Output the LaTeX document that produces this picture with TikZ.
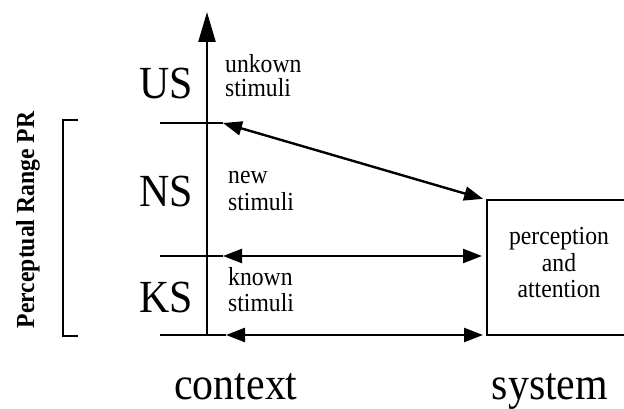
\documentclass[tikz,border=0pt]{standalone}
\usepackage{fontspec}
\setmainfont[FakeStretch=0.91]{Liberation Serif}
\usetikzlibrary{arrows.meta}

\tikzset{
  head/.style={-{Triangle[length=30pt,width=17pt]}},
  heads/.style={{Triangle[length=19pt,width=14pt]}-{Triangle[length=19pt,width=14pt]}},
  level/.style={font=\fontsize{46}{46}\selectfont},
  note/.style={font=\fontsize{26}{26}\selectfont, align=left},
}

\begin{document}
\begin{tikzpicture}[x=1pt,y=-1pt,line width=2.4pt]
\tikzstyle{every node}+=[inner sep=0pt]
\useasboundingbox (0,0) rectangle (624,409);
\clip (0,0) rectangle (624,409);

% context axis
\coordinate (axbot) at (207,335);
\coordinate (axtop) at (207,12);
\draw [head] (axbot) -- (axtop);

% stimulus levels
\node [level] (us) at (166,83) {US};
\node [level] (ns) at (166,191) {NS};
\node [level] (ks) at (166,297) {KS};

% base = baseline of the last line
\node [note, anchor=base west] (unk) at (224,97) {unkown\\[-1.5pt]stimuli};
\node [note, anchor=base west] (new) at (227,210) {new\\[1pt]stimuli};
\node [note, anchor=base west] (known) at (227,311) {known\\stimuli};

% range bracket
\coordinate (brtop) at (78,120);
\coordinate (brbot) at (78,336);
\draw (brtop) -- ++(-15,0) |- (brbot);
\node [font=\bfseries\fontsize{26}{26}\selectfont, rotate=90] (pr) at (28,220) {Perceptual Range PR};

% system
\node [draw, outer sep=0pt, anchor=north west, minimum width=200pt,
       minimum height=135pt] (sys) at (487,200) {};
\node [note, align=center, anchor=base] (pa) at (559,297) {perception\\[1pt]and\\attention};

% borders between levels
\coordinate (lus) at (160,123);
\coordinate (rus) at (223,123);
\coordinate (lks) at (160,256);
\coordinate (rks) at (223,256);
\coordinate (lbot) at (160,335);
\coordinate (rbot) at (226,335);
\draw (lus) -- (rus);
\draw (lks) -- (rks);
\draw (lbot) -- (rbot);

\draw [heads, shorten >=4pt] (rus) -- (sys.north west);
\draw [heads, shorten >=5pt] (rks) -- (sys.west |- rks);
\draw [heads, shorten >=4pt] (rbot) -- (sys.south west);

\node [level, anchor=base] (ctx) at (236,399) {context};
\node [level, anchor=base] (syst) at (550,399) {system};
\end{tikzpicture}
\end{document}
